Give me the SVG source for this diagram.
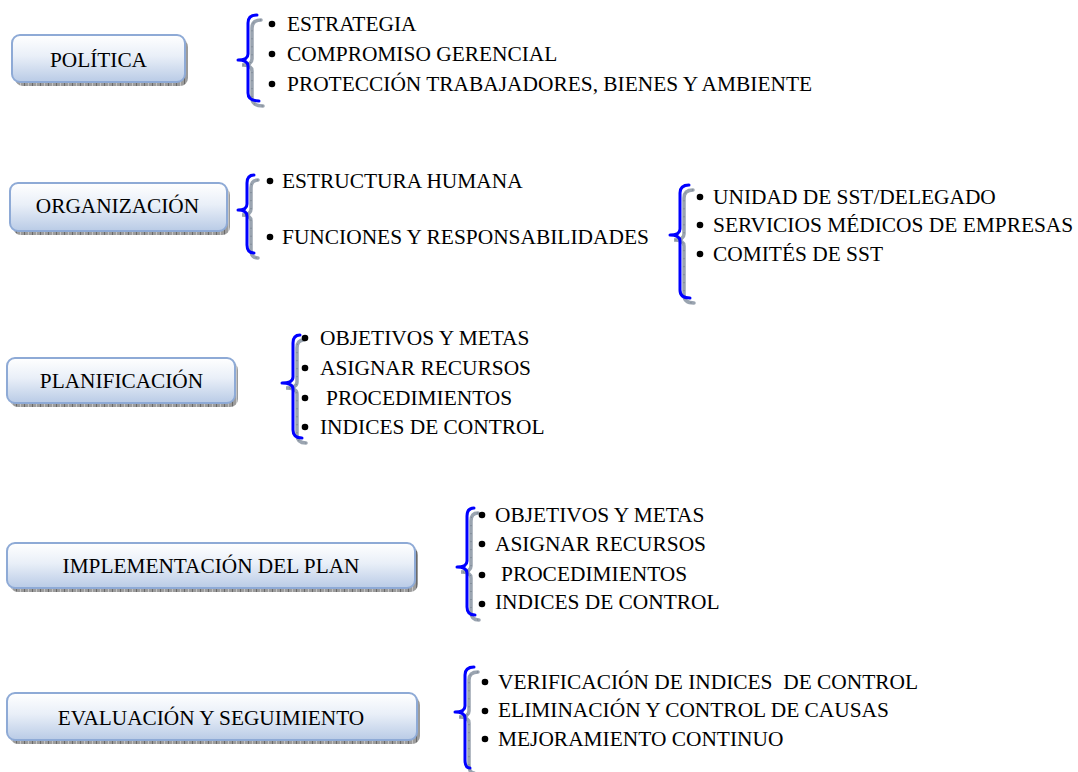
<svg xmlns="http://www.w3.org/2000/svg" xmlns:xlink="http://www.w3.org/1999/xlink" width="1078" height="772" viewBox="0 0 1078 772">
  <style>
    .box { fill: url(#boxFill); stroke: #8eaad6; stroke-width: 2; }
    .shadow { fill: url(#hatch); }
    .label { font-family: "Liberation Serif", "Times New Roman", serif; font-size: 21.3px; fill: #000; text-anchor: middle; }
    .item { font-family: "Liberation Serif", "Times New Roman", serif; font-size: 21.4px; fill: #000; }
    .dot { fill: #000; }
    .brace { fill: none; stroke: #0000ff; stroke-width: 3; stroke-linecap: round; stroke-linejoin: round; }
    .brace-shadow { fill: none; stroke: #9aa4b0; stroke-width: 3.5; stroke-linecap: round; }
    .brace-tick { fill: none; stroke: #6f7a86; stroke-width: 1; stroke-dasharray: 1 7; }
  </style>
  <defs>
    <linearGradient id="boxFill" x1="0" y1="0" x2="0" y2="1">
      <stop offset="0" stop-color="#ffffff"/>
      <stop offset="0.45" stop-color="#e9eff8"/>
      <stop offset="1" stop-color="#b9cbe6"/>
    </linearGradient>
    <pattern id="hatch" width="8" height="8" patternUnits="userSpaceOnUse">
      <rect width="8" height="8" fill="#9c9c9c"/>
      <rect x="0" width="1" height="8" fill="#6a6a6a"/>
      <rect x="4" width="1" height="8" fill="#c4c4c4"/>
    </pattern>
    <path id="br1" d="M257,15 Q248,15 248,23 L248,54 Q248,60 238,60 Q248,60 248,66 L248,93 Q248,101 259,101"/>
    <path id="br2" d="M254,175 Q247,175 247,183 L247,204 Q247,210 238,210 Q247,210 247,216 L247,245 Q247,253 254,253"/>
    <path id="br3" d="M689,185 Q680,185 680,193 L680,229 Q680,235 670,235 Q680,235 680,241 L680,290 Q680,298 690,298"/>
    <path id="br4" d="M300,335 Q293,335 293,343 L293,377 Q293,383 282,383 Q293,383 293,389 L293,430 Q293,438 302,438"/>
    <path id="br5" d="M474,508 Q467,508 467,516 L467,561 Q467,567 457,567 Q467,567 467,573 L467,607 Q467,615 475,615"/>
    <path id="br6" d="M474,667 Q465,667 465,675 L465,706 Q465,712 455,712 Q465,712 465,718 L465,760 Q465,768 470,768"/>
  </defs>

  <rect width="1078" height="772" fill="#ffffff"/>

  <!-- brackets linking each stage to its items -->
  <g id="connectors">
    <g transform="translate(4,5)">
      <use xlink:href="#br1" class="brace-shadow"/><use xlink:href="#br1" class="brace-tick"/>
      <use xlink:href="#br2" class="brace-shadow"/><use xlink:href="#br2" class="brace-tick"/>
      <use xlink:href="#br3" class="brace-shadow"/><use xlink:href="#br3" class="brace-tick"/>
      <use xlink:href="#br4" class="brace-shadow"/><use xlink:href="#br4" class="brace-tick"/>
      <use xlink:href="#br5" class="brace-shadow"/><use xlink:href="#br5" class="brace-tick"/>
      <use xlink:href="#br6" class="brace-shadow"/><use xlink:href="#br6" class="brace-tick"/>
    </g>
    <use xlink:href="#br1" class="brace"/>
    <use xlink:href="#br2" class="brace"/>
    <use xlink:href="#br3" class="brace"/>
    <use xlink:href="#br4" class="brace"/>
    <use xlink:href="#br5" class="brace"/>
    <use xlink:href="#br6" class="brace"/>
  </g>

  <!-- stage boxes -->
  <g id="politica">
    <rect class="shadow" x="15" y="39" width="173" height="47" rx="8"/>
    <rect class="box" x="12" y="35" width="173" height="47" rx="8"/>
    <text class="label" x="98.5" y="67">POLÍTICA</text>
  </g>
  <g id="organizacion">
    <rect class="shadow" x="13" y="187" width="217" height="48" rx="8"/>
    <rect class="box" x="10" y="183" width="217" height="48" rx="8"/>
    <text class="label" x="117.5" y="213">ORGANIZACIÓN</text>
  </g>
  <g id="planificacion">
    <rect class="shadow" x="10" y="362" width="228" height="45" rx="8"/>
    <rect class="box" x="7" y="358" width="228" height="45" rx="8"/>
    <text class="label" x="121.5" y="388">PLANIFICACIÓN</text>
  </g>
  <g id="implementacion">
    <rect class="shadow" x="10" y="547" width="408" height="45" rx="8"/>
    <rect class="box" x="7" y="543" width="408" height="45" rx="8"/>
    <text class="label" x="211" y="573">IMPLEMENTACIÓN DEL PLAN</text>
  </g>
  <g id="evaluacion">
    <rect class="shadow" x="10" y="697" width="410" height="47" rx="8"/>
    <rect class="box" x="7" y="693" width="410" height="47" rx="8"/>
    <text class="label" x="211" y="725">EVALUACIÓN Y SEGUIMIENTO</text>
  </g>

  <!-- item lists -->
  <g id="politica-items">
    <circle class="dot" cx="272" cy="24" r="3.3"/>
    <circle class="dot" cx="272" cy="54" r="3.3"/>
    <circle class="dot" cx="272" cy="84" r="3.3"/>
    <text class="item" x="287" y="31">ESTRATEGIA</text>
    <text class="item" x="287" y="61">COMPROMISO GERENCIAL</text>
    <text class="item" x="287" y="91">PROTECCIÓN TRABAJADORES, BIENES Y AMBIENTE</text>
  </g>
  <g id="organizacion-items">
    <circle class="dot" cx="270" cy="181" r="3.3"/>
    <circle class="dot" cx="270" cy="237" r="3.3"/>
    <text class="item" x="282" y="188">ESTRUCTURA HUMANA</text>
    <text class="item" x="282" y="244">FUNCIONES Y RESPONSABILIDADES</text>
  </g>
  <g id="funciones-items">
    <circle class="dot" cx="700" cy="197" r="3.3"/>
    <circle class="dot" cx="700" cy="225" r="3.3"/>
    <circle class="dot" cx="700" cy="254" r="3.3"/>
    <text class="item" x="713" y="204">UNIDAD DE SST/DELEGADO</text>
    <text class="item" x="713" y="232">SERVICIOS MÉDICOS DE EMPRESAS</text>
    <text class="item" x="713" y="261">COMITÉS DE SST</text>
  </g>
  <g id="planificacion-items">
    <circle class="dot" cx="305" cy="338" r="3.3"/>
    <circle class="dot" cx="305" cy="368" r="3.3"/>
    <circle class="dot" cx="305" cy="398" r="3.3"/>
    <circle class="dot" cx="305" cy="427" r="3.3"/>
    <text class="item" x="320" y="345">OBJETIVOS Y METAS</text>
    <text class="item" x="320" y="375">ASIGNAR RECURSOS</text>
    <text class="item" x="326" y="405">PROCEDIMIENTOS</text>
    <text class="item" x="320" y="434">INDICES DE CONTROL</text>
  </g>
  <g id="implementacion-items">
    <circle class="dot" cx="482" cy="515" r="3.3"/>
    <circle class="dot" cx="482" cy="544" r="3.3"/>
    <circle class="dot" cx="482" cy="575" r="3.3"/>
    <circle class="dot" cx="482" cy="604" r="3.3"/>
    <text class="item" x="495" y="522">OBJETIVOS Y METAS</text>
    <text class="item" x="495" y="551">ASIGNAR RECURSOS</text>
    <text class="item" x="501" y="581">PROCEDIMIENTOS</text>
    <text class="item" x="495" y="609">INDICES DE CONTROL</text>
  </g>
  <g id="evaluacion-items">
    <circle class="dot" cx="485" cy="682" r="3.3"/>
    <circle class="dot" cx="485" cy="711" r="3.3"/>
    <circle class="dot" cx="485" cy="739" r="3.3"/>
    <text class="item" x="498" y="689" xml:space="preserve">VERIFICACIÓN DE INDICES  DE CONTROL</text>
    <text class="item" x="498" y="717">ELIMINACIÓN Y CONTROL DE CAUSAS</text>
    <text class="item" x="498" y="746">MEJORAMIENTO CONTINUO</text>
  </g>
</svg>
